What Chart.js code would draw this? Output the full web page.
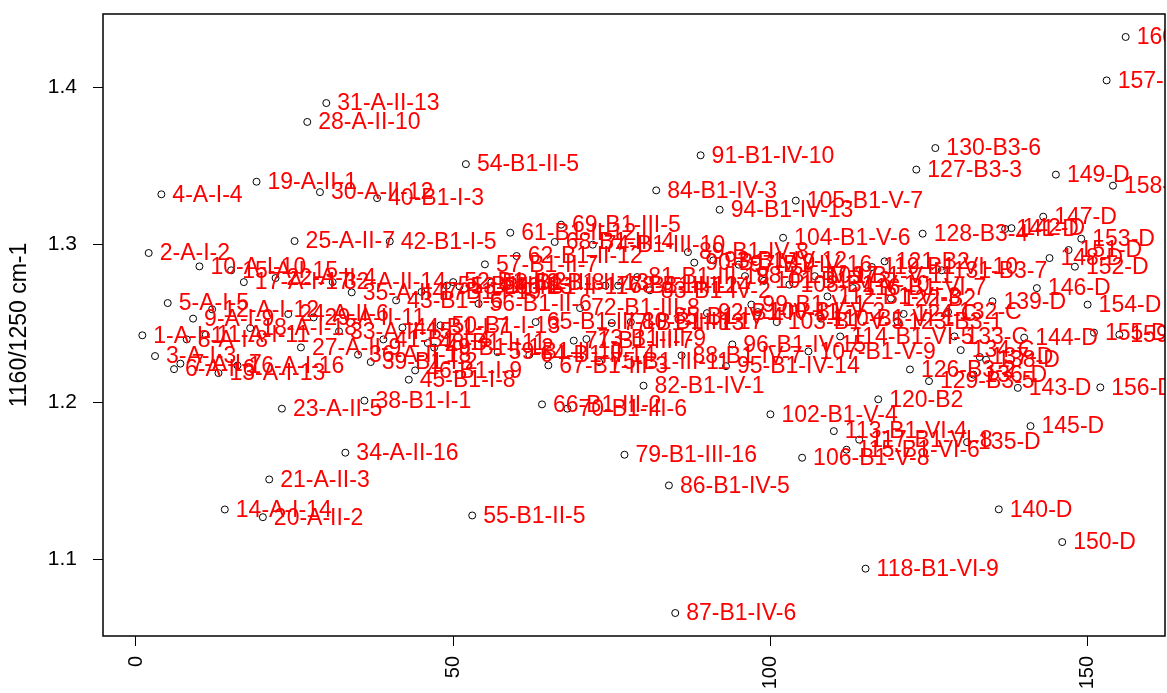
<!DOCTYPE html>
<html>
<head>
<meta charset="utf-8">
<script src="https://cdn.jsdelivr.net/npm/chart.js@4.4.0/dist/chart.umd.min.js"></script>
<style>
  html, body { margin: 0; padding: 0; background: #fff; overflow: hidden; }
</style>
</head>
<body>
<canvas id="ratioChart" width="1170" height="693"></canvas>
<script>
// sample names, in plotting order (x = position in this list)
const sampleNames = [
  '1-A-I-1','2-A-I-2','3-A-I-3','4-A-I-4','5-A-I-5','6-A-I-6','7-A-I-7','8-A-I-8','9-A-I-9','10-A-I-10',
  '11-A-I-11','12-A-I-12','13-A-I-13','14-A-I-14','15-A-I-15','16-A-I-16','17-A-I-17','18-A-I-18','19-A-II-1','20-A-II-2',
  '21-A-II-3','22-A-II-4','23-A-II-5','24-A-II-6','25-A-II-7','27-A-II-9','28-A-II-10','29-A-II-11','30-A-II-12','31-A-II-13',
  '32-A-II-14','33-A-II-15','34-A-II-16','35-A-II-17','36-A-II-18','38-B1-I-1','39-B1-I-2','40-B1-I-3','41-B1-I-4','42-B1-I-5',
  '43-B1-I-6','44-B1-I-7','45-B1-I-8','46-B1-I-9','47-B1-I-10','48-B1-I-11','49-B1-I-12','50-B1-I-13','51-B1-II-1','52-B1-II-2',
  '53-B1-II-3','54-B1-II-5','55-B1-II-5','56-B1-II-6','57-B1-II-7','58-B1-II-8','59-B1-II-10','60-B1-II-11','61-B1-II-12','62-B1-II-12',
  '63-B1-II-13','64-B1-II-14','65-B1-III-1','66-B1-III-2','67-B1-III-3','68-B1-III-4','69-B1-III-5','70-B1-III-6','71-B1-III-7','72-B1-III-8',
  '73-B1-III-9','74-B1-III-10','75-B1-III-11','76-B1-III-12','77-B1-III-13','78-B1-III-14','79-B1-III-16','80-B1-III-17','81-B1-III-18','82-B1-IV-1',
  '83-B1-IV-2','84-B1-IV-3','85-B1-IV-4','86-B1-IV-5','87-B1-IV-6','88-B1-IV-7','89-B1-IV-8','90-B1-IV-9','91-B1-IV-10','92-B1-IV-11',
  '93-B1-IV-12','94-B1-IV-13','95-B1-IV-14','96-B1-IV-15','97-B1-IV-16','98-B1-IV-17','99-B1-V-1','100-B1-V-2','101-B1-V-3','102-B1-V-4',
  '103-B1-V-5','104-B1-V-6','108-B1-V-10','105-B1-V-7','106-B1-V-8','107-B1-V-9','109-B1-V-11','110-B1-VI-1','112-B1-VI-3','113-B1-VI-4',
  '114-B1-VI-5','115-B1-VI-6','116-B1-VI-7','117-B1-VI-8','118-B1-VI-9','119-B1-VI-10','120-B2','121-B2','122-B2','123-B3-1',
  '124-C','126-B3-2','127-B3-3','128-B3-4','129-B3-5','130-B3-6','131-B3-7','132-C','133-C','134-C',
  '135-D','136-D','137-D','138-D','139-D','140-D','141-D','142-D','143-D','144-D',
  '145-D','146-D','147-D','148-D','149-D','150-D','151-D','152-D','153-D','154-D',
  '155-D','156-D','157-D','158-D','159-D','160-D'
];

// band ratio 1160/1250 cm-1 for each sample
const bandRatio = [
  1.2424,1.2947,1.2292,1.3320,1.2629,1.2209,1.2244,1.2398,1.2530,1.2862,
  1.2428,1.2589,1.2184,1.1317,1.2837,1.2232,1.2762,1.2470,1.3400,1.1268,
  1.1508,1.2788,1.1958,1.2559,1.3023,1.2347,1.3780,1.2538,1.3334,1.3900,
  1.2762,1.2449,1.1678,1.2697,1.2301,1.2009,1.2254,1.3296,1.2398,1.3021,
  1.2646,1.2473,1.2142,1.2201,1.2700,1.2375,1.2346,1.2487,1.2740,1.2762,
  1.2735,1.3512,1.1279,1.2625,1.2875,1.2760,1.2317,1.2735,1.3076,1.2928,
  1.2760,1.2300,1.2508,1.1985,1.2233,1.3017,1.3127,1.1958,1.2390,1.2597,
  1.2400,1.3000,1.2254,1.2740,1.2502,1.2740,1.1665,1.2508,1.2794,1.2104,
  1.2710,1.3345,1.2540,1.1470,1.0659,1.2296,1.2953,1.2886,1.3568,1.2565,
  1.2900,1.3222,1.2228,1.2366,1.2873,1.2800,1.2619,1.2572,1.2770,1.1922,
  1.2508,1.3044,1.2746,1.3280,1.1646,1.2322,1.2800,1.2530,1.2671,1.1815,
  1.2417,1.1697,1.2724,1.1761,1.0941,1.2858,1.2017,1.2894,1.2657,1.2513,
  1.2560,1.2207,1.3477,1.3070,1.2133,1.3614,1.2837,1.2572,1.2417,1.2330,
  1.1745,1.2174,1.2286,1.2269,1.2640,1.1318,1.3100,1.3105,1.2090,1.2409,
  1.1847,1.2724,1.3178,1.2915,1.3445,1.1110,1.2966,1.2860,1.3038,1.2619,
  1.2441,1.2093,1.4044,1.3375,1.2428,1.4320
];

const xTicks = [0, 50, 100, 150];
const yTicks = [1.1, 1.2, 1.3, 1.4];

const points = bandRatio.map((v, i) => ({ x: i + 1, y: v }));

// red text labels to the right of each point, clipped to the plot box like R does
const pointLabels = {
  id: 'pointLabels',
  afterDatasetsDraw(chart) {
    const ctx = chart.ctx;
    const a = chart.chartArea;
    const meta = chart.getDatasetMeta(0);
    ctx.save();
    ctx.beginPath();
    ctx.rect(a.left, a.top, a.right - a.left, a.bottom - a.top);
    ctx.clip();
    ctx.font = '23px "Liberation Sans", Arial, sans-serif';
    ctx.fillStyle = '#ff0000';
    ctx.textBaseline = 'middle';
    ctx.textAlign = 'left';
    meta.data.forEach((pt, i) => {
      ctx.fillText(sampleNames[i], pt.x + 11, pt.y + 1);
    });
    ctx.restore();

    // plot box
    ctx.save();
    ctx.strokeStyle = '#000';
    ctx.lineWidth = 1.5;
    ctx.strokeRect(a.left, a.top, a.right - a.left, a.bottom - a.top);
    ctx.restore();
  }
};

Chart.defaults.font.family = '"Liberation Sans", Arial, sans-serif';
Chart.defaults.color = '#000000';

const ctx = document.getElementById('ratioChart').getContext('2d');
const ratioChart = new Chart(ctx, {
  type: 'scatter',
  data: {
    datasets: [{
      data: points,
      pointStyle: 'circle',
      pointRadius: 3.5,
      pointBorderWidth: 1,
      borderColor: '#000',
      backgroundColor: 'rgba(0,0,0,0)',
    }]
  },
  options: {
    responsive: false,
    animation: false,
    devicePixelRatio: 1,
    layout: { padding: { top: 14, right: 0, left: 0, bottom: 0 } },
    plugins: {
      legend: { display: false },
      tooltip: { enabled: false },
    },
    scales: {
      x: {
        type: 'linear',
        min: -5.2,
        max: 162.2,
        afterBuildTicks: (s) => { s.ticks = xTicks.map(v => ({ value: v })); },
        afterFit: (s) => { s.height = 57; s.paddingLeft = 0; s.paddingRight = 0; },
        border: { display: false },
        grid: { drawOnChartArea: false, drawTicks: true, tickLength: 10, color: '#000', lineWidth: 1 },
        ticks: { minRotation: 90, maxRotation: 90, padding: 10, font: { size: 20 }, color: '#000' },
      },
      y: {
        type: 'linear',
        min: 1.0513,
        max: 1.4466,
        afterBuildTicks: (s) => { s.ticks = yTicks.map(v => ({ value: v })); },
        afterFit: (s) => { s.width = 103; s.paddingTop = 0; s.paddingBottom = 0; },
        border: { display: false },
        grid: { drawOnChartArea: false, drawTicks: true, tickLength: 10, color: '#000', lineWidth: 1 },
        ticks: {
          padding: 16,
          font: { size: 21 },
          color: '#000',
          callback: (v) => v.toFixed(1),
        },
        title: {
          display: true,
          text: '1160/1250 cm-1',
          font: { size: 23 },
          color: '#000',
          padding: { top: 6, bottom: 0 },
        },
      },
    },
  },
  plugins: [pointLabels],
});
</script>
</body>
</html>
